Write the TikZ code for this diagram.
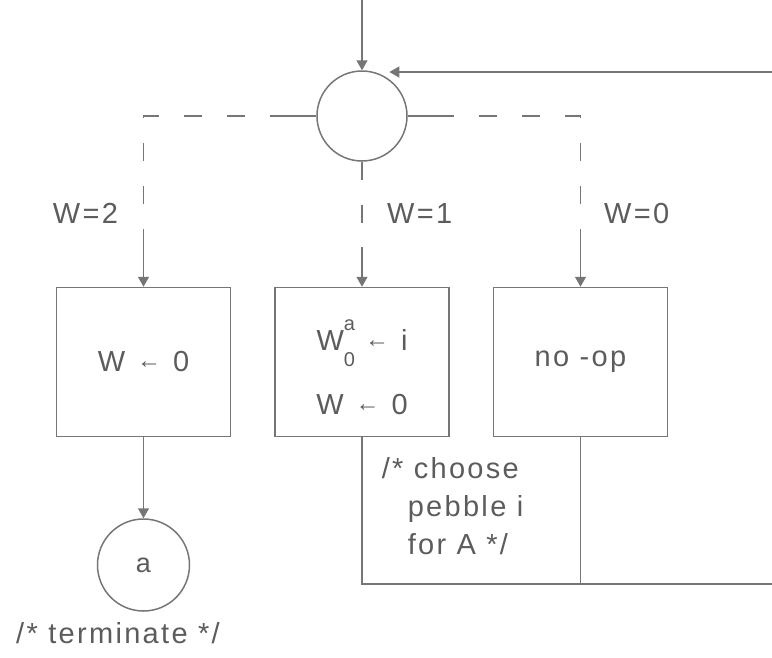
\documentclass[tikz,border=0pt]{standalone}
\usepackage{fontspec}
\setmainfont[LetterSpace=8]{Liberation Sans}
\usepackage{xcolor}
\usepackage{tikz}
\usetikzlibrary{positioning,arrows.meta}

\definecolor{ink}{RGB}{118,118,118}
\definecolor{txt}{RGB}{92,92,92}
\newcommand{\arw}{\raisebox{3pt}{\fontsize{24}{24}\selectfont ←}}
\newcommand{\sml}{\fontsize{20}{20}\selectfont}

\begin{document}
\begin{tikzpicture}[
  x=1pt, y=-1pt,
  font=\fontsize{29}{36}\selectfont,
  color=ink, line width=1.5pt,
  every node/.append style={text=txt},
  opbox/.style={draw, minimum width=174pt, minimum height=149pt,
                inner sep=0pt, align=center},
  junc/.style={draw, circle, minimum size=90pt, inner sep=0pt},
  dashline/.style={dash pattern=on 18pt off 25pt},
  >={Triangle[length=10pt,width=11pt]}
]
\useasboundingbox (0,0) rectangle (772,657);

% junction and the three branches
\node[junc] (circ) at (362,116) {};
\node[opbox] (assign) at (362,362)
  {\rule{0pt}{41pt}W\makebox[0pt][l]{\raisebox{20pt}{\sml a}}\raisebox{-16pt}{\sml 0}\hspace{10pt}\arw\hspace{12pt}i\\[27pt]
   W\hspace{12pt}\arw\hspace{12pt}0};
\node[opbox, left=43pt of assign]  (reset) {W\hspace{12pt}\arw\hspace{12pt}0};
\node[opbox, right=43pt of assign] (noop)  {no -op};
\node[junc, minimum size=92pt, below=81pt of reset] (halt) {\fontsize{27}{27}\selectfont a};

% labels
\node[anchor=base east] (wtwo)  at (122,223) {W=2};
\node[anchor=base west] (wone)  at (383,223) {W=1};
\node[anchor=base west] (wzero) at (600,223) {W=0};
\node[anchor=base] (termtxt) at (118,643) {/* terminate */};
\node[anchor=north west, inner sep=0pt, align=left,
      font=\fontsize{29}{38}\selectfont] (choose) at (381,457)
  {/* choose\\\hspace*{26pt}pebble i\\\hspace*{26pt}for A */};

% free ends
\coordinate (entry)   at (362,0);
\coordinate (loopin)  at (772,72);
\coordinate (loopout) at (772,584);
\draw (circ.west) -- ++(-36,0) coordinate (lstub);
\draw (circ.east) -- ++(40,0) coordinate (rstub);
\coordinate (lcorner) at (reset.north |- circ.west);
\coordinate (rcorner) at (noop.north |- circ.east);
\path (reset.north)  ++(0,-40) coordinate (lfoot);
\path (assign.north) ++(0,-40) coordinate (mfoot);
\path (noop.north)   ++(0,-40) coordinate (rfoot);

% edges
\draw[->] (entry) -- (circ);
\draw[->] (loopin) -- ([xshift=-5pt]loopin -| circ.north east);
\draw[dashline, dash phase=8pt]  (lstub) -- (lcorner) -- (lfoot);
\draw[dashline]                  (circ.south) -- (mfoot);
\draw[dashline, dash phase=12pt] (rstub) -- (rcorner) -- (rfoot);
\draw[->] (lfoot) -- (reset);
\draw[->] (mfoot) -- (assign);
\draw[->] (rfoot) -- (noop);
\draw[->] (reset) -- (halt);
\draw (assign.south) |- (loopout);
\draw (noop.south) -- (noop.south |- loopout);
\end{tikzpicture}
\end{document}
